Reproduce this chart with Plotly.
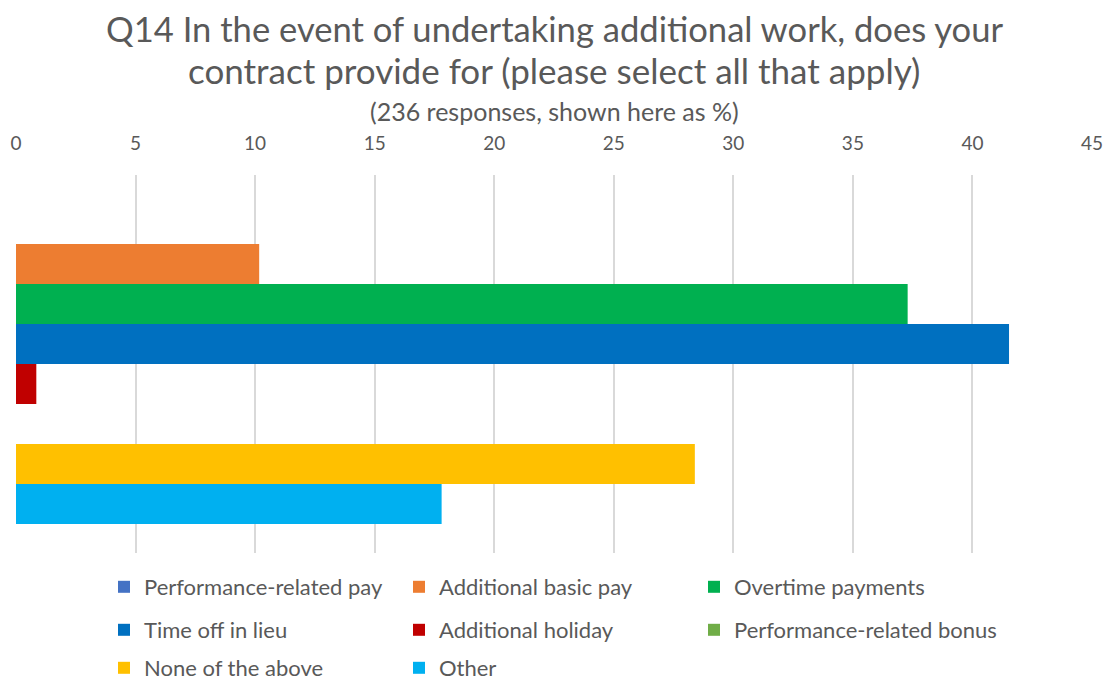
import plotly.graph_objects as go

# Survey results: share of 236 respondents choosing each option (%)
options = [
    "Performance-related pay",
    "Additional basic pay",
    "Overtime payments",
    "Time off in lieu",
    "Additional holiday",
    "Performance-related bonus",
    "None of the above",
    "Other",
]
percent = [0.0, 10.17, 37.29, 41.53, 0.85, 0.0, 28.39, 17.80]
colors = ["#4472C4", "#ED7D31", "#00B050", "#0070C0",
          "#C00000", "#70AD47", "#FFC000", "#00B0F0"]
x_ticks = [0, 5, 10, 15, 20, 25, 30, 35, 40, 45]

FONT = "Lato, 'Open Sans', sans-serif"
GREY = "#595959"

W, H = 1105, 684
ML, MR, MT, MB = 16, 13, 175, 131
PW, PH = W - ML - MR, H - MT - MB

# legend grid: three columns, three rows (pixel positions of each entry)
col_left = [104, 399, 694]
row_mid = [587, 630, 668]

fig = go.Figure()
legends = {}
for i, (name, val, col) in enumerate(zip(options, percent, colors)):
    key = "legend" if i == 0 else f"legend{i + 1}"
    fig.add_trace(go.Bar(
        x=[val], y=[""], name=name, orientation="h",
        marker=dict(color=col, line=dict(width=0)),
        legend=key, showlegend=True,
    ))
    r, c = divmod(i, 3)
    legends[key] = dict(
        x=(col_left[c] - ML) / PW, y=(MT + PH - row_mid[r]) / PH,
        xanchor="left", yanchor="middle",
        font=dict(family=FONT, size=22, color=GREY),
        bgcolor="rgba(0,0,0,0)", borderwidth=0,
    )


def py(px):
    """pixel row -> paper y coordinate"""
    return (MT + PH - px) / PH


fig.update_layout(
    width=W, height=H,
    margin=dict(l=ML, r=MR, t=MT, b=MB, autoexpand=False),
    paper_bgcolor="white", plot_bgcolor="white",
    showlegend=True,
    barmode="group", bargap=0.153, bargroupgap=0,
    xaxis=dict(
        side="top", range=[0, 45], tickvals=x_ticks,
        showgrid=True, gridcolor="#D9D9D9", gridwidth=2,
        zeroline=False, showline=False,
        ticks="outside", ticklen=16, tickcolor="rgba(0,0,0,0)",
        tickfont=dict(family=FONT, size=19, color=GREY),
        fixedrange=True,
    ),
    yaxis=dict(
        range=[0.5, -0.5], showticklabels=False, showgrid=False,
        zeroline=False, showline=False, ticks="",
    ),
    annotations=[
        dict(text="Q14 In the event of undertaking additional work, does your",
             xref="paper", yref="paper", x=0.5, y=py(28),
             xanchor="center", yanchor="middle", showarrow=False,
             font=dict(family=FONT, size=34.6, color=GREY)),
        dict(text="contract provide for (please select all that apply)",
             xref="paper", yref="paper", x=0.5, y=py(70),
             xanchor="center", yanchor="middle", showarrow=False,
             font=dict(family=FONT, size=35, color=GREY)),
        dict(text="(236 responses, shown here as %)",
             xref="paper", yref="paper", x=0.5, y=py(111),
             xanchor="center", yanchor="middle", showarrow=False,
             font=dict(family=FONT, size=25, color=GREY)),
    ],
    **legends,
)

fig.write_html("out.html")
